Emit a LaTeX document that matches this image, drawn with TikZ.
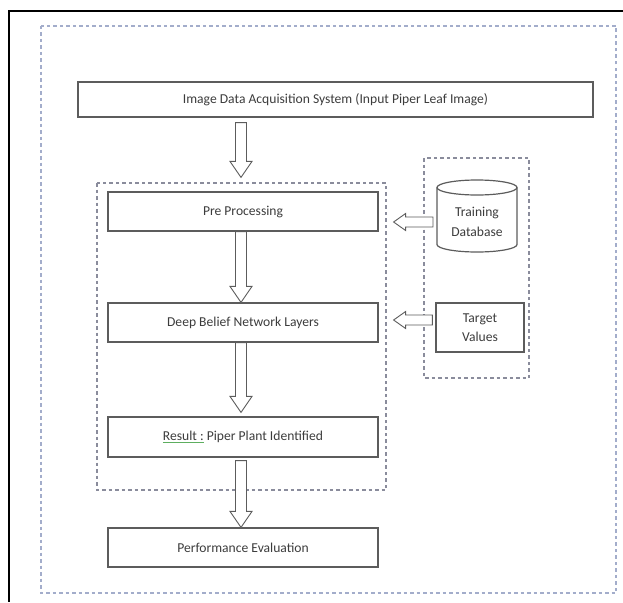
\documentclass[tikz,border=0pt]{standalone}
\usepackage{fontspec}
\setmainfont{Carlito}
\usetikzlibrary{calc}
\definecolor{boxline}{HTML}{5C5C5C}
\definecolor{txt}{HTML}{3C3C3C}
\definecolor{outerdash}{HTML}{A3ADCB}
\definecolor{innerdash}{HTML}{8A8C9C}
\definecolor{spell}{HTML}{5DAE5F}
\newcommand\spellmark[1]{\setbox0\hbox{#1}\rlap{\color{spell}\rule[-2.6pt]{\wd0}{0.8pt}}\box0\relax}
\newcommand\hollowdown[2]{%
  \draw[blockarrow] let \p1=(#1), \p2=(#2) in
    (\x1-5.5pt,\y1) -- (\x1-5.5pt,\y2+16pt) -- (\x1-11pt,\y2+16pt) -- (\x1,\y2)
    -- (\x1+11pt,\y2+16pt) -- (\x1+5.5pt,\y2+16pt) -- (\x1+5.5pt,\y1) -- cycle;}
\newcommand\hollowleft[2]{%
  \draw[blockarrow] let \p1=(#1), \p2=(#2) in
    (\x1,\y1+5pt) -- (\x2+12pt,\y1+5pt) -- (\x2+12pt,\y1+8.5pt) -- (\x2,\y1)
    -- (\x2+12pt,\y1-8.5pt) -- (\x2+12pt,\y1-5pt) -- (\x1,\y1-5pt) -- cycle;}
\begin{document}
\begin{tikzpicture}[x=1pt,y=-1pt,
  font=\fontsize{13.6}{19.5}\selectfont,
  procbox/.style={draw=boxline, line width=1.2pt, inner sep=0pt, text=txt,
    minimum width=270, minimum height=39},
  blockarrow/.style={draw=boxline, line width=0.9pt, fill=white},
  outerdashed/.style={draw=outerdash, line width=1.1pt, dash pattern=on 3.5pt off 3pt},
  innerdashed/.style={draw=innerdash, line width=1.1pt, dash pattern=on 3.5pt off 3pt}]
\useasboundingbox (0,0) rectangle (623,602);
% outer frame
\draw[black, line width=1.4pt] (623,11) -- (9,11) -- (9,602);
\draw[outerdashed] (41,26) rectangle (616,593);
\draw[innerdashed] (97,183) rectangle (386,490);
\draw[innerdashed] (424,158) rectangle (529,378);
% boxes
\node[procbox, minimum width=515, minimum height=35] (top) at (335.5,99.5)
  {Image Data Acquisition System (Input Piper Leaf Image)};
\node[procbox] (pre) at (243,211.5) {Pre Processing};
\node[procbox] (dbn) at (243,322.5) {Deep Belief Network Layers};
\node[procbox, minimum height=40] (res) at (243,437)
  {\spellmark{Result :} Piper Plant Identified};
\node[procbox] (perf) at (243,547.5) {Performance Evaluation};
\node[procbox, minimum width=88, minimum height=49, align=center] (tv) at (480,327.5)
  {Target\\Values};
% cylinder
\draw[boxline, line width=1.2pt] (477,187.5) ellipse [x radius=40, y radius=7.5];
\draw[boxline, line width=1.2pt] (437,187.5) -- (437,244.5)
  arc[start angle=180, end angle=0, x radius=40, y radius=7.5] -- (517,187.5);
\node[align=center, text=txt, inner sep=0pt] (db) at (477,222) {Training\\Database};
% arrow coordinates
\coordinate (ax) at (241,0);
\coordinate (a1s) at ($(top.south -| ax)+(0,5)$);
\coordinate (a1e) at ($(pre.north -| ax)+(0,-14)$);
\coordinate (a2s) at (pre.south -| ax);
\coordinate (a2e) at (dbn.north -| ax);
\coordinate (a3s) at (dbn.south -| ax);
\coordinate (a3e) at ($(res.north -| ax)+(0,-4)$);
\coordinate (a4s) at ($(res.south -| ax)+(0,3)$);
\coordinate (a4e) at (perf.north -| ax);
\coordinate (h1s) at (433,222);
\coordinate (h1e) at ($(pre.east |- h1s)+(15,0)$);
\coordinate (h2s) at ($(tv.west)+(-3,-7.5)$);
\coordinate (h2e) at ($(dbn.east |- h2s)+(15,0)$);
\hollowdown{a1s}{a1e}
\hollowdown{a2s}{a2e}
\hollowdown{a3s}{a3e}
\hollowdown{a4s}{a4e}
\hollowleft{h1s}{h1e}
\hollowleft{h2s}{h2e}
\end{tikzpicture}
\end{document}
